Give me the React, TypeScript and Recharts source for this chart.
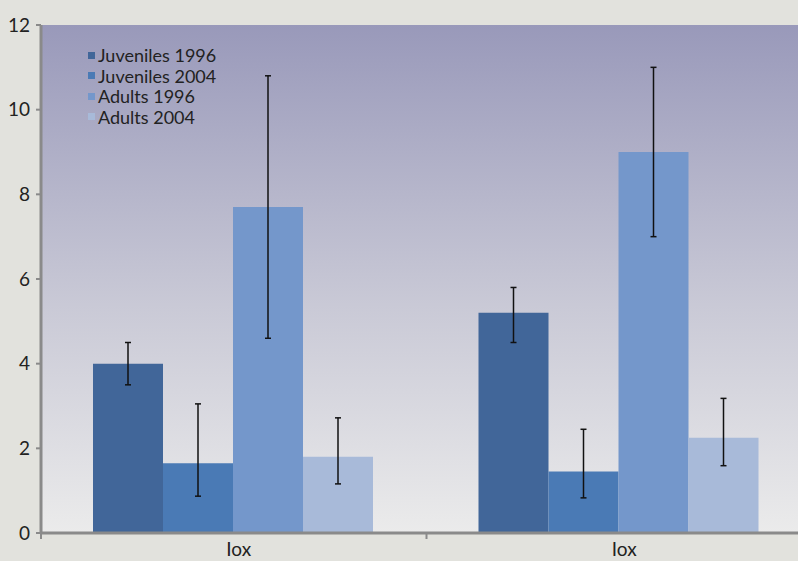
import { Bar, BarChart, CartesianGrid, ErrorBar, Legend, XAxis, YAxis } from 'recharts'

const categories = ['Iox', 'Iox']
const seriesNames = ['Juveniles 1996', 'Juveniles 2004', 'Adults 1996', 'Adults 2004']
const colors = ['#416699', '#4a7ab5', '#7497cb', '#a8bad9']

const juveniles1996 = [4.0, 5.2]
const juveniles2004 = [1.65, 1.45]
const adults1996 = [7.7, 9.0]
const adults2004 = [1.8, 2.25]

// [below, above]
const juveniles1996Err = [[0.5, 0.5], [0.7, 0.6]]
const juveniles2004Err = [[0.78, 1.4], [0.62, 1.0]]
const adults1996Err = [[3.1, 3.1], [2.0, 2.0]]
const adults2004Err = [[0.64, 0.92], [0.66, 0.93]]

const yTicks = [0, 2, 4, 6, 8, 10, 12]

const data = categories.map((name, i) => ({
  name,
  s0: juveniles1996[i],
  s1: juveniles2004[i],
  s2: adults1996[i],
  s3: adults2004[i],
  e0: juveniles1996Err[i],
  e1: juveniles2004Err[i],
  e2: adults1996Err[i],
  e3: adults2004Err[i],
}))

const font = 'Lato, "Open Sans", sans-serif'

function LegendBox() {
  return (
    <div style={{ fontFamily: font, fontSize: 18, color: '#222', lineHeight: '20.5px' }}>
      {seriesNames.map((n, i) => (
        <div key={n} style={{ display: 'flex', alignItems: 'center' }}>
          <span
            style={{ display: 'inline-block', width: 7, height: 7, background: colors[i], marginRight: 3 }}
          />
          {n}
        </div>
      ))}
    </div>
  )
}

function XTick({ x, y, payload }: any) {
  const off = payload.offset || 0
  return (
    <g>
      <line x1={x - off} x2={x - off} y1={y - 8} y2={y - 2} stroke="#8a8a8a" strokeWidth={2} />
      <text x={x + 5} y={y + 15} textAnchor="middle" fill="#222" fontSize={19} fontFamily={font}>
        {payload.value}
      </text>
    </g>
  )
}

export default function App() {
  return (
    <div
      style={{
        position: 'absolute',
        left: 0,
        top: 0,
        width: 798,
        height: 561,
        overflow: 'hidden',
        background: '#e2e2dd',
      }}
    >
      <BarChart
        width={812}
        height={561}
        data={data}
        margin={{ top: 25, right: 0, left: 0, bottom: 0 }}
        barCategoryGap={52}
        barGap={0}
      >
        <defs>
          <linearGradient id="plotBg" x1="0" y1="0" x2="0" y2="1">
            <stop offset="0%" stopColor="#9999ba" />
            <stop offset="55%" stopColor="#c9c9d6" />
            <stop offset="100%" stopColor="#ebebeb" />
          </linearGradient>
        </defs>
        <CartesianGrid fill="url(#plotBg)" fillOpacity={1} horizontal={false} vertical={false} />
        <XAxis
          dataKey="name"
          height={28}
          tick={<XTick />}
          tickLine={false}
          axisLine={{ stroke: '#8a8a8a', strokeWidth: 3 }}
          interval={0}
        />
        <YAxis
          width={41}
          domain={[0, 12]}
          ticks={yTicks}
          tickSize={5}
          tickMargin={6}
          axisLine={{ stroke: '#8a8a8a', strokeWidth: 3 }}
          tickLine={{ stroke: '#8a8a8a', strokeWidth: 2 }}
          tick={{ fill: '#222', fontSize: 19, fontFamily: font }}
        />
        <Legend
          content={<LegendBox />}
          layout="vertical"
          verticalAlign="middle"
          align="center"
          wrapperStyle={{ left: 88, top: 45, width: 200 }}
        />
        {[0, 1, 2, 3].map((i) => (
          <Bar key={i} dataKey={`s${i}`} name={seriesNames[i]} fill={colors[i]} isAnimationActive={false}>
            <ErrorBar dataKey={`e${i}`} width={3} stroke="#111" strokeWidth={1.5} direction="y" />
          </Bar>
        ))}
      </BarChart>
    </div>
  )
}
